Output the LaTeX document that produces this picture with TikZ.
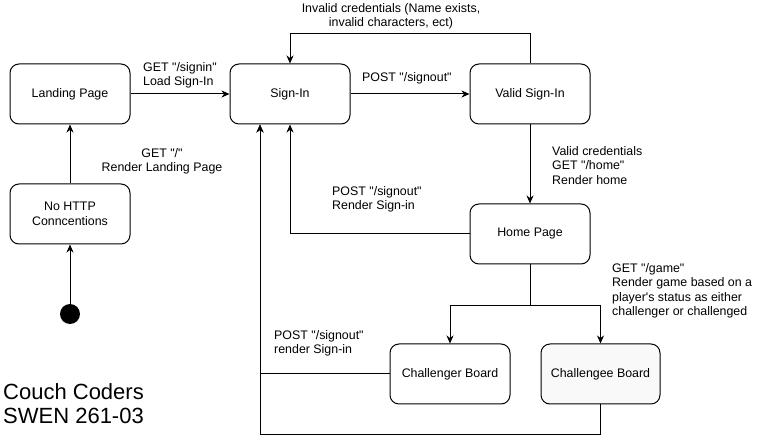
\documentclass[tikz,border=0pt]{standalone}
\usepackage{fontspec}
\setmainfont{Liberation Sans}[Ligatures=TeXOff]
\usetikzlibrary{arrows.meta,positioning,calc}
\definecolor{boardgrey}{RGB}{249,249,249}

\begin{document}
\begin{tikzpicture}[x=1pt, y=-1pt,
    state/.style={rectangle, draw=black, line width=1pt, fill=white,
        rounded corners=9pt, minimum width=120pt, minimum height=60pt,
        font=\fontsize{12.4}{14.5}\selectfont, align=center},
    lbl/.style={inner sep=0pt, font=\fontsize{12.4}{14.6}\selectfont,
        align=left, anchor=north west},
    arr/.style={-{Stealth[length=8pt,width=7pt,inset=2.5pt]}, line width=1pt}
]
    \useasboundingbox (0,0) rectangle (771,443);

    \node[state] (landing) at (70,94) {Landing Page};
    \node[state] (signin) at (290,94) {Sign-In};
    \node[state] (valid) at (530,94) {Valid Sign-In};
    \node[state] (nohttp) at (70,214) {No HTTP\\Conncentions};
    \node[state] (home) at (530,234) {Home Page};
    \node[state] (challenger) at (450,374) {Challenger Board};
    \node[state, fill=boardgrey, minimum width=119pt] (challengee) at (600.5,374) {Challengee Board};
    \node[circle, fill=black, minimum size=20pt, inner sep=0pt] (start) at (70,314) {};

    \draw[arr] (start) -- (nohttp);
    \draw[arr] (nohttp) -- (landing);
    \draw[arr] (landing) -- (signin);
    \draw[arr] (signin) -- (valid);
    \draw[arr] (valid.north) -- ++(0,-30) -| (signin.north);
    \draw[arr] (valid) -- (home);
    \draw[arr] (home.west) -| (signin.south);
    \draw[arr] (home.south) -- ++(0,41) coordinate (split) -| (challenger.north);
    \draw[arr] (split) -| (challengee.north);
    \draw[arr] (challenger.west) -| ($(signin.south)+(-30,0)$);
    \draw[arr] (challengee.south) -- ++(0,30) -| ($(signin.south)+(-30,0)$);

    % edge labels
    \node[lbl] (lsignin) at (143,62) {GET "/signin"\\Load Sign-In};
    \node[lbl, anchor=north, align=center] (lroot) at (162,148) {GET "/"\\Render Landing Page};
    \node[lbl] (lpostvalid) at (362,72) {POST "/signout"};
    \node[lbl, anchor=north, align=center] (linvalid) at (391,3) {Invalid credentials (Name exists,\\invalid characters, ect)};
    \node[lbl] (lvalid) at (552,146) {Valid credentials\\GET "/home"\\Render home};
    \node[lbl] (lposthome) at (332,186) {POST "/signout"\\Render Sign-in};
    \node[lbl] (lgame) at (612,263) {GET "/game"\\Render game based on a\\player's status as either\\challenger or challenged};
    \node[lbl] (lpostboard) at (274,330) {POST "/signout"\\render Sign-in};

    \node[lbl, font=\fontsize{22}{24}\selectfont] (team) at (3,383) {Couch Coders\\SWEN 261-03};
\end{tikzpicture}
\end{document}
